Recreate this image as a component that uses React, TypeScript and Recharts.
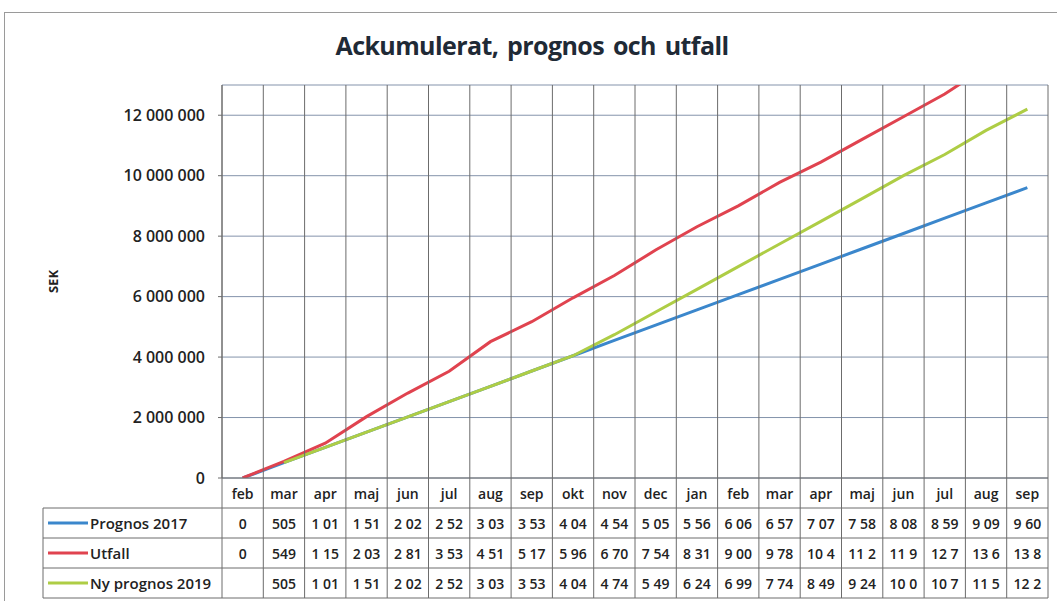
import React from 'react'
import { LineChart, Line, XAxis, YAxis, CartesianGrid } from 'recharts'

// months on the x axis (feb 2017 .. sep 2018)
const months = ['feb', 'mar', 'apr', 'maj', 'jun', 'jul', 'aug', 'sep', 'okt', 'nov', 'dec', 'jan', 'feb', 'mar', 'apr', 'maj', 'jun', 'jul', 'aug', 'sep']

const prognos2017 = [0, 505500, 1011000, 1516500, 2022000, 2527500, 3033000, 3538500, 4044000, 4549500, 5055000, 5560500, 6066000, 6571500, 7077000, 7582500, 8088000, 8593500, 9099000, 9604500]
const utfall = [0, 549000, 1150000, 2030000, 2810000, 3530000, 4510000, 5170000, 5960000, 6700000, 7540000, 8310000, 9000000, 9780000, 10450000, 11200000, 11950000, 12700000, 13600000, 13850000]
const nyPrognos2019 = [null, 505500, 1011000, 1516500, 2022000, 2527500, 3033000, 3538500, 4044000, 4740000, 5490000, 6240000, 6990000, 7740000, 8490000, 9240000, 10000000, 10700000, 11500000, 12200000]

const yTicks = [0, 2000000, 4000000, 6000000, 8000000, 10000000, 12000000]
const yMax = 13000000

const series = [
  { key: 'p2017', name: 'Prognos 2017', color: '#3b87cc', values: prognos2017 },
  { key: 'utfall', name: 'Utfall', color: '#e0434f', values: utfall },
  { key: 'ny2019', name: 'Ny prognos 2019', color: '#aecd45', values: nyPrognos2019 },
]

const data = months.map((m, i) => {
  const row: Record<string, any> = { month: m }
  series.forEach(s => { row[s.key] = s.values[i] })
  return row
})

// layout
const W = 1050
const H = 588
const MARGIN = { top: 72, right: 7, bottom: 3, left: 40 }
const Y_W = 177
const X_H = 120
const ROW = 30
const PLOT_W = W - MARGIN.left - MARGIN.right - Y_W
const BAND = PLOT_W / months.length
const PLOT_LEFT = MARGIN.left + Y_W
const PLOT_RIGHT = PLOT_LEFT + PLOT_W
const TABLE_LEFT = 38

const FONT = '"Open Sans", "DejaVu Sans", sans-serif'
const GRID_V = '#6c6c6c'
const GRID_H = '#8493ab'

const fmt = (v: number) => String(v).replace(/\B(?=(\d{3})+(?!\d))/g, ' ')
// the data table cells only have room for four characters
const cell = (v: number | null) => (v == null ? '' : fmt(v).slice(0, 4).trim())

const TableTick = (props: any) => {
  const { x, y, payload } = props
  const i = payload.index ?? props.index
  const textStyle = { fontFamily: FONT, fontSize: 14, fontWeight: 600, fill: '#222' }
  return (
    <g>
      <line x1={x - BAND / 2} x2={x - BAND / 2} y1={MARGIN.top} y2={y + ROW * 4} stroke={GRID_V} />
      {i === months.length - 1 && (
        <line x1={x + BAND / 2} x2={x + BAND / 2} y1={MARGIN.top} y2={y + ROW * 4} stroke={GRID_V} />
      )}
      <text x={x} y={y + ROW / 2} textAnchor="middle" dominantBaseline="central" style={textStyle}>
        {payload.value}
      </text>
      {series.map((s, r) => (
        <text key={s.key} x={x} y={y + ROW * (r + 1) + ROW / 2} textAnchor="middle" dominantBaseline="central" style={textStyle}>
          {cell(s.values[i])}
        </text>
      ))}
      {i === 0 && (
        <g>
          {[1, 2, 3, 4].map(r => (
            <line key={r} x1={TABLE_LEFT} x2={PLOT_RIGHT} y1={y + ROW * r} y2={y + ROW * r} stroke={GRID_V} />
          ))}
          <line x1={TABLE_LEFT} x2={TABLE_LEFT} y1={y + ROW} y2={y + ROW * 4} stroke={GRID_V} />
          {series.map((s, r) => (
            <g key={s.key}>
              <line x1={TABLE_LEFT + 5} x2={TABLE_LEFT + 45} y1={y + ROW * (r + 1) + ROW / 2} y2={y + ROW * (r + 1) + ROW / 2} stroke={s.color} strokeWidth={3} />
              <text x={TABLE_LEFT + 47} y={y + ROW * (r + 1) + ROW / 2} dominantBaseline="central" style={{ ...textStyle, fontSize: 15 }}>
                {s.name}
              </text>
            </g>
          ))}
        </g>
      )}
    </g>
  )
}

export default function App() {
  return (
    <div style={{ position: 'relative', width: 1057, height: 601, overflow: 'hidden', background: '#fff' }}>
      <style>{'body{margin:0;overflow:hidden}'}</style>
      <div style={{ position: 'absolute', left: 4, top: 12, width: 1060, height: 600, border: '1px solid #9a9a9a' }} />
      <div
        style={{
          position: 'absolute', left: 0, width: 1064, top: 28, textAlign: 'center',
          fontFamily: '"Open Sans", sans-serif', letterSpacing: -0.6, wordSpacing: 3,
          fontWeight: 700, fontSize: 25, color: '#1f2a36',
        }}
      >
        Ackumulerat, prognos och utfall
      </div>
      <div style={{ position: 'absolute', left: 5, top: 13 }}>
        <LineChart width={W} height={H} data={data} margin={MARGIN}>
          <CartesianGrid vertical={false} stroke={GRID_H} />
          <XAxis
            dataKey="month"
            padding={{ left: BAND / 2, right: BAND / 2 }}
            interval={0}
            height={X_H}
            tickLine={false}
            tickSize={0}
            tickMargin={0}
            tick={<TableTick />}
            axisLine={{ stroke: GRID_V }}
          />
          <YAxis
            width={Y_W}
            domain={[0, yMax]}
            ticks={yTicks}
            allowDataOverflow
            tickFormatter={fmt}
            tickSize={4}
            tickMargin={13}
            tickLine={{ stroke: GRID_V }}
            axisLine={{ stroke: GRID_V }}
            tick={{ fontFamily: FONT, fontSize: 16, fontWeight: 600, fill: '#222' }}
            label={{ value: 'SEK', angle: -90, position: 'insideLeft', offset: 8, style: { textAnchor: 'middle', fontFamily: FONT, fontWeight: 700, fontSize: 13, fill: '#222' } }}
          />
          {series.map(s => (
            <Line
              key={s.key}
              type="linear"
              dataKey={s.key}
              name={s.name}
              stroke={s.color}
              strokeWidth={3}
              dot={false}
              isAnimationActive={false}
            />
          ))}
        </LineChart>
      </div>
    </div>
  )
}
